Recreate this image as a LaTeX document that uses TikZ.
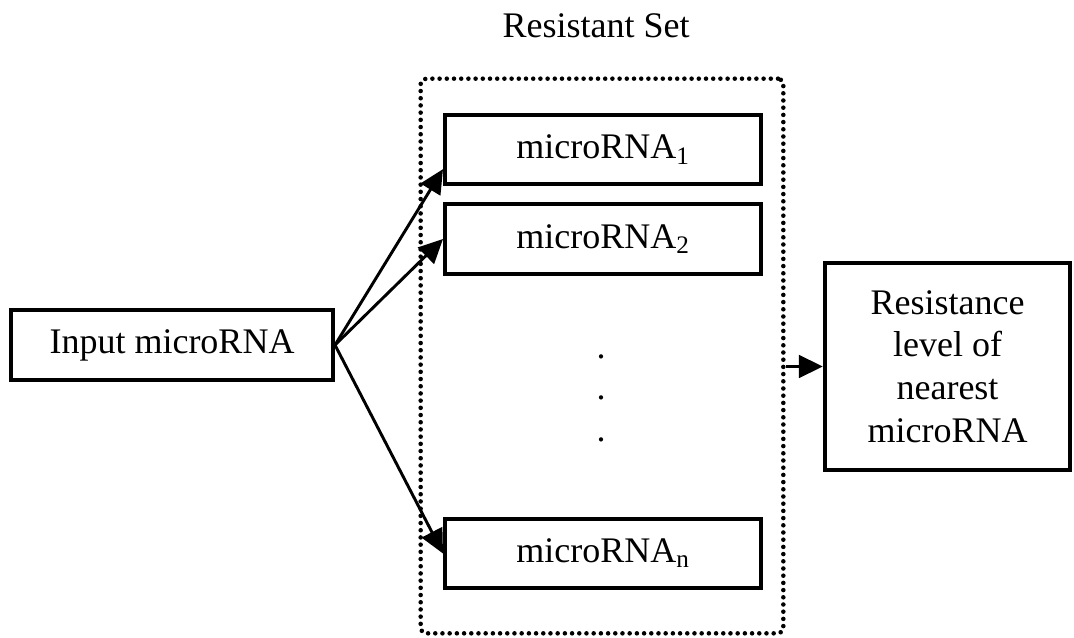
\documentclass[tikz,border=0pt]{standalone}
\usepackage{fontspec}
\setmainfont{Liberation Serif}
\usetikzlibrary{arrows.meta}

\begin{document}
\begin{tikzpicture}[
  x=0.75pt,y=-0.75pt,
  every node/.style={font=\fontsize{27}{32}\selectfont},
  mirna/.style={draw,line width=3pt,minimum width=237pt,minimum height=52pt},
  inbox/.style={draw,line width=3pt,minimum width=241.5pt,minimum height=52.5pt},
  outbox/.style={draw,line width=3pt,minimum width=184pt,minimum height=155pt,align=center},
  setbox/.style={draw,line width=3.4pt,line cap=round,dash pattern=on 0pt off 5.4pt,rounded corners=4pt,minimum width=272pt,minimum height=416pt},
  arr/.style={-{Triangle[length=18pt,width=17pt]},line width=2.2pt}
]
\useasboundingbox (0,0) rectangle (1074,638);

\node[setbox] (rset) at (602,356) {};
\node (title) at (596,26) {Resistant Set};

\node[mirna] (m1) at (603,149.5) {microRNA\textsubscript{1}};
\node[mirna] (m2) at (603,239) {microRNA\textsubscript{2}};
\node[mirna] (mn) at (603,553.5) {microRNA\textsubscript{n}};
\foreach \y [count=\i] in {357,398,440}
  \node[inner sep=0pt] (dot\i) at (601,\y) {.};

\node[inbox] (input) at (172,345) {Input microRNA};
\node[outbox] (res) at (947.5,366.5) {Resistance\\level of\\nearest\\microRNA};

\draw[arr] (input.east) -- (m1.187);
\draw[arr] (input.east) -- (m2.west);
\draw[arr] (input.east) -- (mn.west);
\draw[arr] (rset.east |- res.west) -- (res.west);
\end{tikzpicture}
\end{document}
